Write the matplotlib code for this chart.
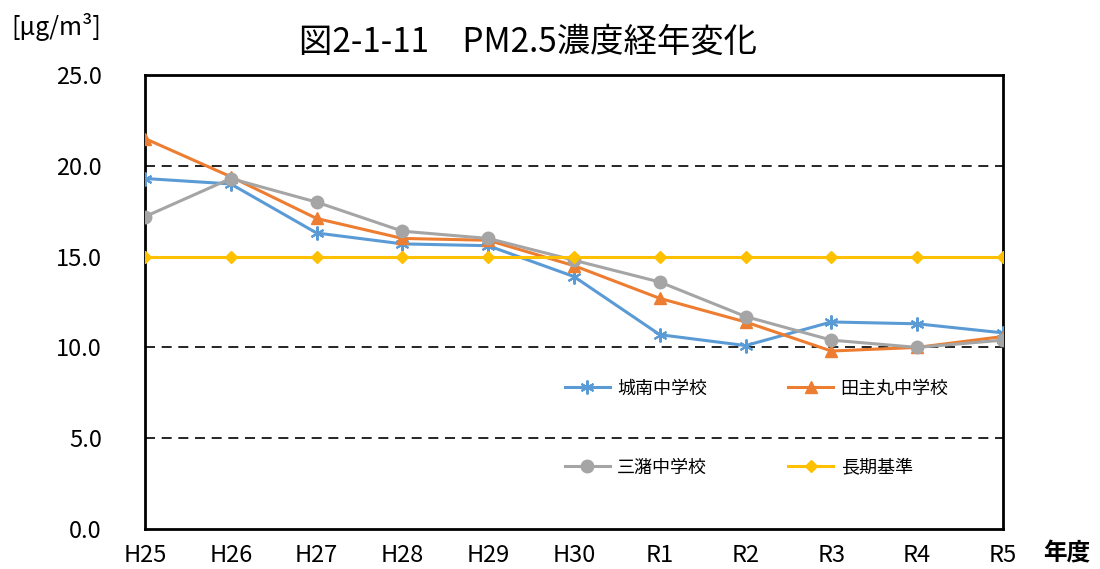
import matplotlib
matplotlib.use('Agg')
import matplotlib.pyplot as plt

plt.rcParams['font.family'] = ['Noto Sans CJK JP', 'DejaVu Sans']

years = ['H25', 'H26', 'H27', 'H28', 'H29', 'H30', 'R1', 'R2', 'R3', 'R4', 'R5']
jonan = [19.3, 19.0, 16.3, 15.7, 15.6, 13.9, 10.7, 10.1, 11.4, 11.3, 10.8]
tanushimaru = [21.5, 19.4, 17.1, 16.0, 15.9, 14.5, 12.7, 11.4, 9.8, 10.0, 10.6]
mizuma = [17.2, 19.3, 18.0, 16.4, 16.0, 14.8, 13.6, 11.7, 10.4, 10.0, 10.4]
standard = [15.0] * 11
yticks = [0, 5, 10, 15, 20, 25]

fig = plt.figure(figsize=(11, 5.69), dpi=100)
ax = fig.add_axes([0.1318, 0.0703, 0.78, 0.7979])

x = list(range(len(years)))
for v in [5, 10, 15, 20]:
    ax.axhline(v, color='black', lw=1.2, ls=(0, (6, 4)), zorder=1)

l1, = ax.plot(x, jonan, color='#5B9BD5', lw=2.2, marker=(6, 2, 0), ms=10, mew=1.5,
              label='城南中学校', zorder=3)
l2, = ax.plot(x, tanushimaru, color='#ED7D31', lw=2.2, marker='^', ms=9,
              label='田主丸中学校', zorder=3)
l3, = ax.plot(x, mizuma, color='#A5A5A5', lw=2.2, marker='o', ms=9,
              label='三潴中学校', zorder=3)
l4, = ax.plot(x, standard, color='#FFC000', lw=2.2, marker='D', ms=6,
              label='長期基準', zorder=3)

ax.set_xlim(0, len(years) - 1)
ax.set_ylim(0, 25)
ax.set_xticks(x)
ax.set_xticklabels(years, fontsize=17)
ax.set_yticks(yticks)
ax.set_yticklabels([f'{v:.1f}' for v in yticks], fontsize=17)
ax.tick_params(length=0)
ax.tick_params(axis='x', pad=11)
ax.tick_params(axis='y', pad=31)
for s in ax.spines.values():
    s.set_linewidth(2)
    s.set_color('black')

ax.legend(handles=[l1, l3, l2, l4], ncol=2, loc='center', bbox_to_anchor=(0.713, 0.2225),
          frameon=False, fontsize=13, handlelength=2.5, handletextpad=0.4,
          labelspacing=3.4, columnspacing=4.5)

fig.text(0.48, 0.926, '図2-1-11　PM2.5濃度経年変化', ha='center', va='center', fontsize=24)
fig.text(0.01, 0.952, '[μg/m³]', ha='left', va='center', fontsize=18)
fig.text(0.948, 0.027, '年度', ha='left', va='center', fontsize=17, fontweight='bold')

fig.savefig('out.png', dpi=100)
